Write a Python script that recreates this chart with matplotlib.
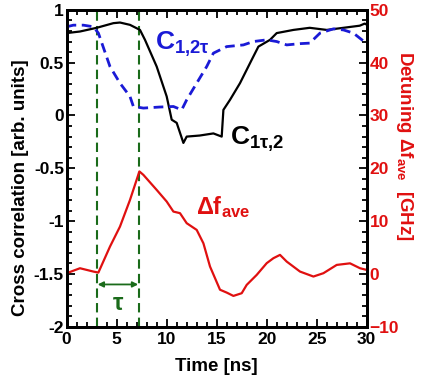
import matplotlib
matplotlib.use("Agg")
import matplotlib.pyplot as plt
from matplotlib.ticker import MultipleLocator, FuncFormatter
import numpy as np

plt.rcParams['font.family'] = ['Liberation Sans', 'DejaVu Sans']
plt.rcParams['font.weight'] = 'bold'
plt.rcParams['axes.labelweight'] = 'bold'
plt.rcParams['mathtext.fontset'] = 'custom'
plt.rcParams['mathtext.rm'] = 'Liberation Sans:bold'
plt.rcParams['mathtext.it'] = 'Liberation Sans:bold'
plt.rcParams['mathtext.bf'] = 'Liberation Sans:bold'

# C_{1tau,2} (black, left axis)
t_black = [0, 1.33, 3.0, 4.67, 5.33, 6.33, 7.33, 7.83, 9.0, 10.0, 10.5, 11.0, 11.67, 12.0,
           13.3, 14.67, 15.5, 15.67, 16.33, 17.33, 18.5, 19.17, 20.33, 21.0, 22.67, 24.3,
           26.0, 27.67, 29.3, 29.8, 30.0]
c_black = [0.78, 0.795, 0.83, 0.874, 0.88, 0.858, 0.81, 0.716, 0.463, 0.18, -0.04, -0.07,
           -0.26, -0.2, -0.19, -0.17, -0.2, 0.053, 0.148, 0.306, 0.527, 0.652, 0.716, 0.78,
           0.81, 0.83, 0.81, 0.83, 0.85, 0.87, 0.86]

# C_{1,2tau} (blue dashed, left axis)
t_blue = [0, 0.67, 1.67, 2.67, 3.17, 4.33, 5.33, 6.33, 6.67, 7.67, 9.33, 10.67, 11.5, 12.0,
          13.0, 14.0, 14.67, 16.0, 17.67, 18.67, 20.0, 21.0, 22.0, 23.33, 24.3, 25.33, 26.67,
          27.67, 28.67, 30.0]
c_blue = [0.84, 0.855, 0.855, 0.84, 0.78, 0.463, 0.306, 0.18, 0.085, 0.07, 0.08, 0.085,
          0.053, 0.148, 0.306, 0.463, 0.59, 0.652, 0.668, 0.70, 0.716, 0.70, 0.668, 0.68,
          0.685, 0.78, 0.82, 0.81, 0.78, 0.68]

# Delta f_ave (red, right axis, GHz)
t_red = [0, 1.33, 2.67, 3.17, 4.33, 5.33, 6.33, 7.27, 7.67, 9.0, 10.0, 10.67, 11.33, 12.0,
         13.0, 13.67, 14.33, 15.33, 16.0, 16.67, 17.5, 18.0, 19.0, 20.0, 20.67, 21.33, 22.0,
         23.33, 24.67, 25.67, 27.0, 28.33, 29.33, 30.0]
f_red = [0.13, 1.07, 0.44, 0.25, 5.17, 8.96, 14.0, 19.4, 18.75, 15.9, 13.7, 11.8, 11.5, 9.6,
         8.33, 5.8, 1.4, -3.0, -3.54, -4.17, -3.66, -2.08, -0.19, 2.03, 2.97, 3.6, 2.33,
         0.44, -0.5, 0.13, 1.7, 2.0, 1.07, 0.75]

tau_start, tau_end = 3.0, 7.25

fig = plt.figure(figsize=(4.22, 3.79), dpi=100)
ax = fig.add_axes([0.158, 0.138, 0.711, 0.836])
ax2 = ax.twinx()

ax.plot(t_black, c_black, color='black', lw=1.6, zorder=3)
ax.plot(t_blue, c_blue, color='#1a1ad6', lw=2.0, ls=(0, (3.5, 2.0)), zorder=3)
ax2.plot(t_red, f_red, color='#e01010', lw=1.6)

for tv in (tau_start, tau_end):
    ax.axvline(tv, color='#1a6b1a', lw=1.5, ls=(0, (4.5, 2.5)), zorder=2)

ax.annotate('', xy=(tau_start + 0.1, -1.6), xytext=(tau_end - 0.1, -1.6),
            arrowprops=dict(arrowstyle='<|-|>', color='#1a6b1a', lw=1.3,
                            mutation_scale=8, shrinkA=0, shrinkB=0))
ax.text(5.1, -1.78, r'$\tau$', color='#1a6b1a', fontsize=17, ha='center', va='center')

ax.text(8.8, 0.62, r'C$_{\mathregular{1}{,}\mathregular{2}\tau}$', color='#1a1ad6',
        fontsize=19, ha='left', va='baseline')
ax.text(16.3, -0.28, r'C$_{\mathregular{1}\tau{,}\mathregular{2}}$', color='black',
        fontsize=19, ha='left', va='baseline')
ax2.text(12.9, 11.4, r'$\Delta$f$_{\mathregular{ave}}$', color='#e01010', fontsize=17,
         ha='left', va='baseline')

ax.set_xlim(0, 30)
ax.set_ylim(-2, 1)
ax2.set_ylim(-10, 50)

ax.xaxis.set_major_locator(MultipleLocator(5))
ax.xaxis.set_minor_locator(MultipleLocator(1))
ax.yaxis.set_major_locator(MultipleLocator(0.5))
ax.yaxis.set_minor_locator(MultipleLocator(0.1))
ax2.yaxis.set_major_locator(MultipleLocator(10))
ax2.yaxis.set_minor_locator(MultipleLocator(2))

fmt = FuncFormatter(lambda v, p: ('%g' % v))
ax.yaxis.set_major_formatter(fmt)
ax.xaxis.set_major_formatter(fmt)

ax.tick_params(axis='both', which='both', direction='in', top=True, right=False,
               labelsize=12.5, width=1.3)
ax.tick_params(which='major', length=6)
ax.tick_params(which='minor', length=3.5)
ax.tick_params(axis='x', pad=4)
ax.tick_params(axis='y', pad=2)
ax2.tick_params(axis='y', which='both', direction='in', labelsize=12.5, width=1.3,
                labelcolor='#e01010', pad=2)
ax2.tick_params(which='major', length=6)
ax2.tick_params(which='minor', length=3.5)

for a in (ax, ax2):
    for s in a.spines.values():
        s.set_linewidth(2)

ax.set_xlabel('Time [ns]', fontsize=13.5, fontweight='bold')
ax.xaxis.set_label_coords(0.5, -0.1)
ax.set_ylabel('Cross correlation [arb. units]', fontsize=13.5, fontweight='bold')
ax.yaxis.set_label_coords(-0.125, 0.44)
ax2.set_ylabel(r'Detuning $\Delta$f$_{\mathregular{ave}}$  [GHz]', fontsize=13.5,
               fontweight='bold', color='#e01010', rotation=270)
ax2.yaxis.set_label_coords(1.16, 0.57)

fig.savefig('out.png', dpi=100)
